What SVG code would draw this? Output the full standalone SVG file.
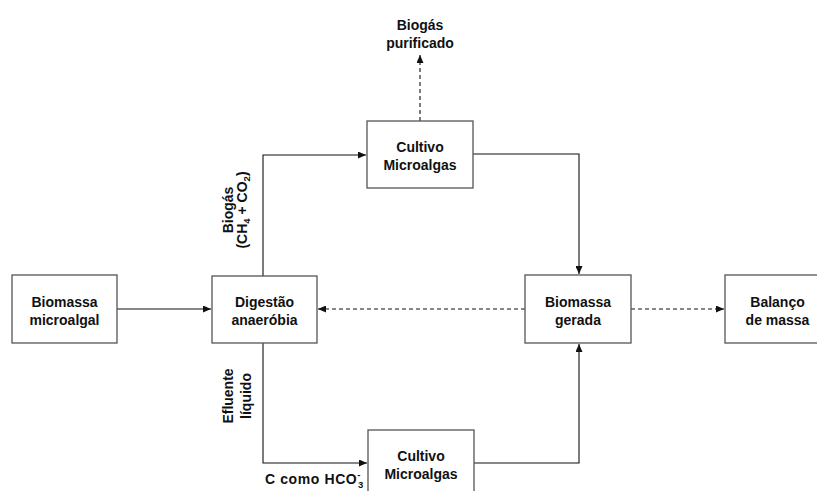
<svg xmlns="http://www.w3.org/2000/svg" width="817" height="491" viewBox="0 0 817 491">
<style>
.box{fill:#fff;stroke:#555;stroke-width:1.3}
.t{font-family:"Liberation Sans",Arial,sans-serif;font-weight:bold;font-size:14px;fill:#111;text-anchor:middle}
.ln{fill:none;stroke:#111;stroke-width:1.1}
.ds{fill:none;stroke:#111;stroke-width:1.1;stroke-dasharray:4 3}
</style>
<defs>
<marker id="ah" markerWidth="8" markerHeight="7" refX="8" refY="3.5" orient="auto" markerUnits="userSpaceOnUse">
<path d="M0,0 L8,3.5 L0,7 Z" fill="#111"/>
</marker>
</defs>
<rect width="817" height="491" fill="#fff"/>
<g id="connectors">
<path class="ln" d="M117,309 H211" marker-end="url(#ah)"/>
<path class="ln" d="M263,276 V155 H366" marker-end="url(#ah)"/>
<path class="ln" d="M263,343 V463 H367" marker-end="url(#ah)"/>
<path class="ln" d="M473,154 H579 V274" marker-end="url(#ah)"/>
<path class="ln" d="M474,463 H579 V344" marker-end="url(#ah)"/>
<path class="ds" d="M525,309 H318" marker-end="url(#ah)"/>
<path class="ds" d="M631,309 H724" marker-end="url(#ah)"/>
<path class="ds" d="M420,121 V55" marker-end="url(#ah)"/>
</g>
<g id="n-biomassa-microalgal">
<rect class="box" x="12" y="275" width="105" height="68"/>
<text class="t" x="64.5" y="307">Biomassa</text>
<text class="t" x="64.5" y="325">microalgal</text>
</g>
<g id="n-digestao">
<rect class="box" x="212" y="276" width="105" height="67"/>
<text class="t" x="264.5" y="307">Digestão</text>
<text class="t" x="264.5" y="325">anaeróbia</text>
</g>
<g id="n-cultivo-top">
<rect class="box" x="367" y="121" width="106" height="67"/>
<text class="t" x="420" y="152">Cultivo</text>
<text class="t" x="420" y="170">Microalgas</text>
</g>
<g id="n-cultivo-bottom">
<rect class="box" x="368" y="430" width="106" height="70"/>
<text class="t" x="421" y="461">Cultivo</text>
<text class="t" x="421" y="479">Microalgas</text>
</g>
<g id="n-biomassa-gerada">
<rect class="box" x="525" y="275" width="106" height="68"/>
<text class="t" x="578" y="307">Biomassa</text>
<text class="t" x="578" y="325">gerada</text>
</g>
<g id="n-balanco">
<rect class="box" x="725" y="275" width="105" height="68"/>
<text class="t" x="777.5" y="307">Balanço</text>
<text class="t" x="777.5" y="325">de massa</text>
</g>
<g id="labels">
<text class="t" x="420" y="30">Biogás</text>
<text class="t" x="420" y="48">purificado</text>
<text class="t" transform="translate(233,210) rotate(-90)">Biogás</text>
<text class="t" transform="translate(247,210) rotate(-90)">(CH<tspan font-size="9.5" dy="3">4</tspan><tspan dy="-3"> + CO</tspan><tspan font-size="9.5" dy="3">2</tspan><tspan dy="-3">)</tspan></text>
<text class="t" transform="translate(233,396) rotate(-90)">Efluente</text>
<text class="t" transform="translate(251,396) rotate(-90)">líquido</text>
<text class="t" x="265" y="484" style="text-anchor:start;letter-spacing:0.6px">C como HCO<tspan font-size="9.5" dy="-6">-</tspan><tspan font-size="9.5" dx="-3" dy="10">3</tspan></text>
</g>
</svg>
